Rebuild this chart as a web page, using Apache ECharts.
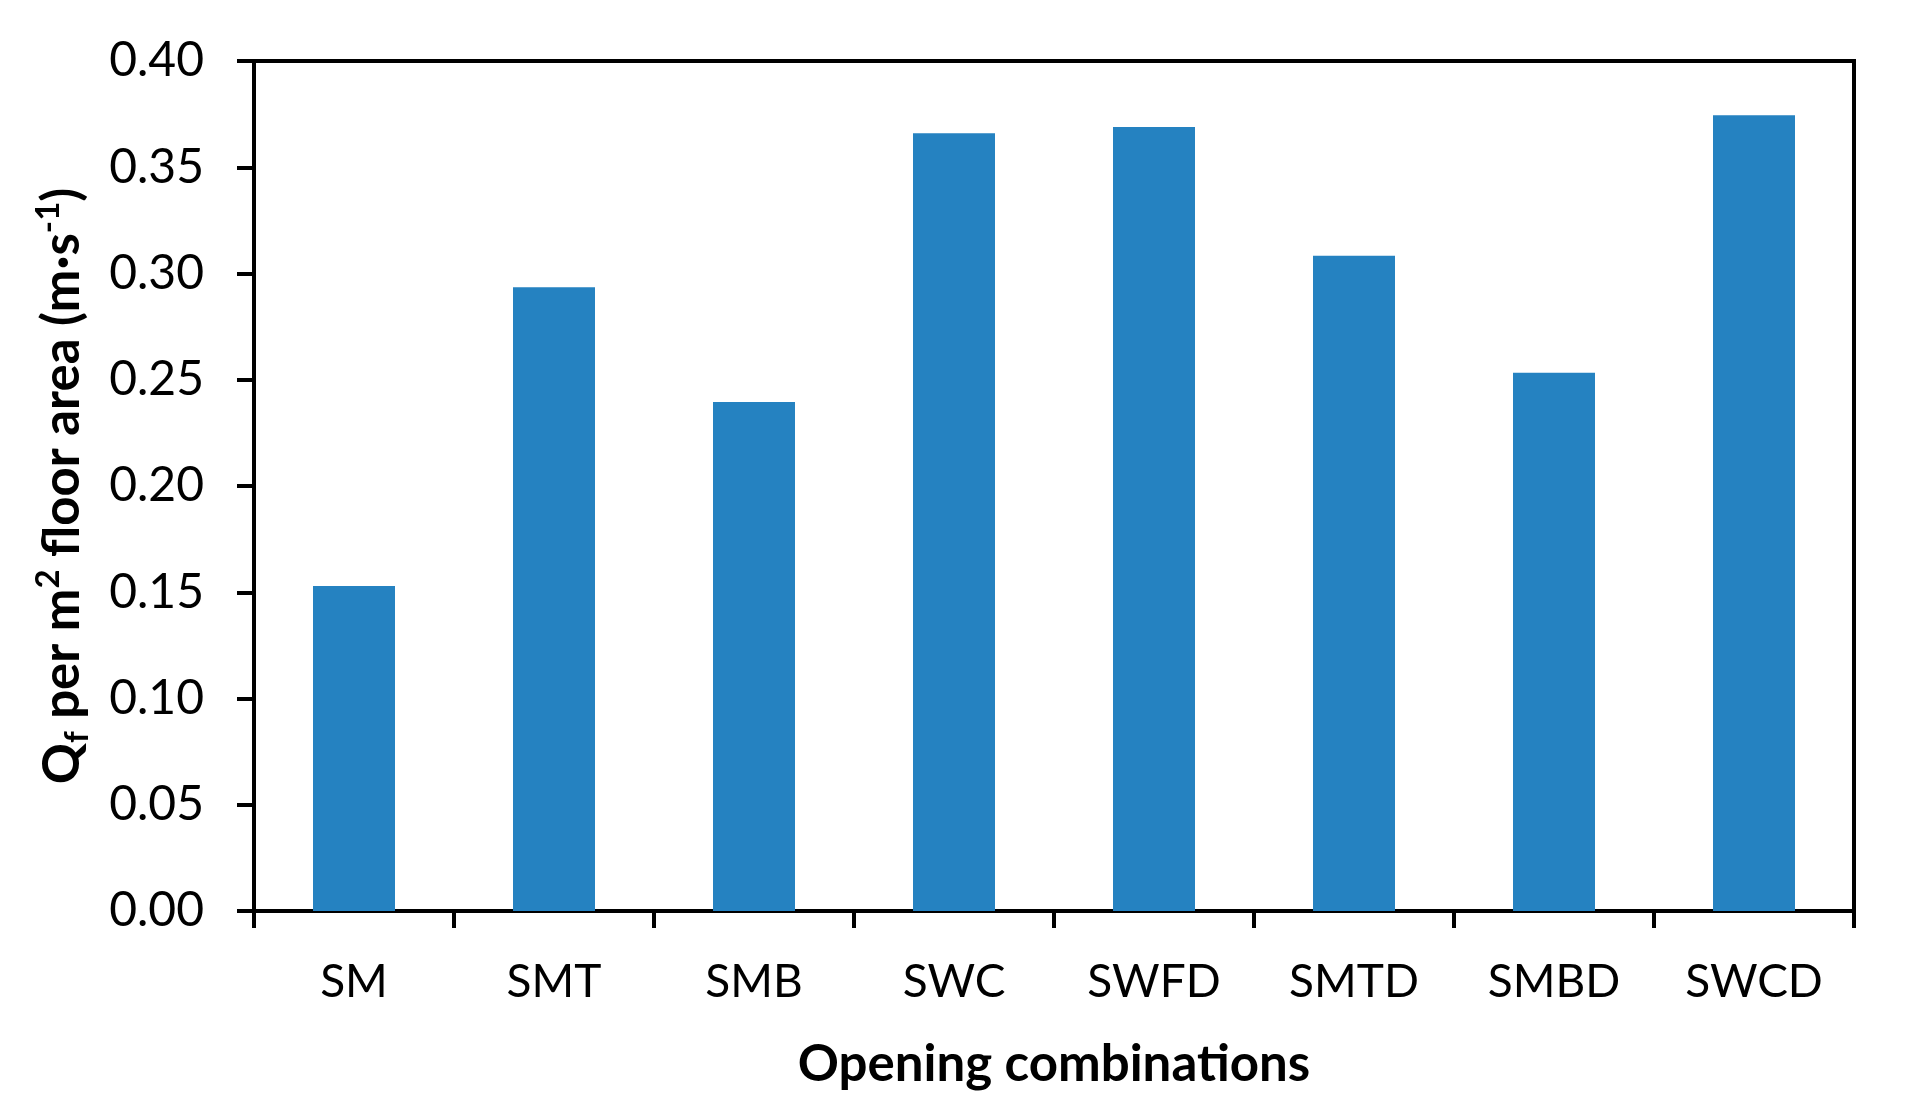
<!DOCTYPE html>
<html>
<head>
<meta charset="utf-8">
<script src="https://cdn.jsdelivr.net/npm/echarts@6/dist/echarts.min.js"></script>
<style>
html,body{margin:0;padding:0;background:#fff;}
#chart{width:1910px;height:1117px;}
</style>
</head>
<body>
<div id="chart"></div>
<script>
const categories = ['SM', 'SMT', 'SMB', 'SWC', 'SWFD', 'SMTD', 'SMBD', 'SWCD'];
const values = [0.153, 0.2935, 0.2395, 0.366, 0.369, 0.3083, 0.2533, 0.3745];
const yTicks = { min: 0, max: 0.4, interval: 0.05 };

const FONT = 'Lato';
const chart = echarts.init(document.getElementById('chart'), null, { renderer: 'canvas' });
chart.setOption({
  animation: false,
  backgroundColor: '#ffffff',
  grid: {
    left: 254, right: 56, top: 61, bottom: 206,
    show: true, borderColor: '#000', borderWidth: 4, backgroundColor: 'transparent'
  },
  xAxis: {
    type: 'category',
    data: categories,
    boundaryGap: true,
    axisLine: { show: true, lineStyle: { color: '#000', width: 4 } },
    axisTick: { show: true, inside: false, length: 17, alignWithLabel: false, lineStyle: { color: '#000', width: 4 } },
    axisLabel: { color: '#000', fontFamily: FONT, fontSize: 46, margin: 48 },
    name: 'Opening combinations',
    nameLocation: 'middle',
    nameGap: 128,
    nameTextStyle: { color: '#000', fontFamily: FONT, fontSize: 51, fontWeight: 'bold' },
    splitLine: { show: false }
  },
  yAxis: {
    type: 'value',
    min: yTicks.min, max: yTicks.max, interval: yTicks.interval,
    axisLine: { show: true, lineStyle: { color: '#000', width: 4 } },
    axisTick: { show: true, inside: false, length: 17, lineStyle: { color: '#000', width: 4 } },
    axisLabel: { color: '#000', fontFamily: FONT, fontSize: 48, margin: 50, formatter: v => v.toFixed(2) },
    splitLine: { show: false },
    name: '{m|Q}{sub|f}{m| per m}{sup|2}{m| floor area (m·s}{sup|-1}{m|)}',
    nameLocation: 'middle',
    nameRotate: 90,
    nameGap: 160,
    nameTextStyle: {
      color: '#000', fontFamily: FONT, fontSize: 51, fontWeight: 'bold',
      rich: {
        m: { fontFamily: FONT, fontSize: 51, fontWeight: 'bold', color: '#000', lineHeight: 62, verticalAlign: 'middle' },
        sub: { fontFamily: FONT, fontSize: 33, fontWeight: 'bold', color: '#000', lineHeight: 62, verticalAlign: 'bottom' },
        sup: { fontFamily: FONT, fontSize: 33, fontWeight: 'bold', color: '#000', lineHeight: 62, verticalAlign: 'top' }
      }
    }
  },
  series: [{
    type: 'bar',
    data: values,
    barWidth: '41%',
    itemStyle: { color: '#2582C1' }
  }]
});
</script>
</body>
</html>
